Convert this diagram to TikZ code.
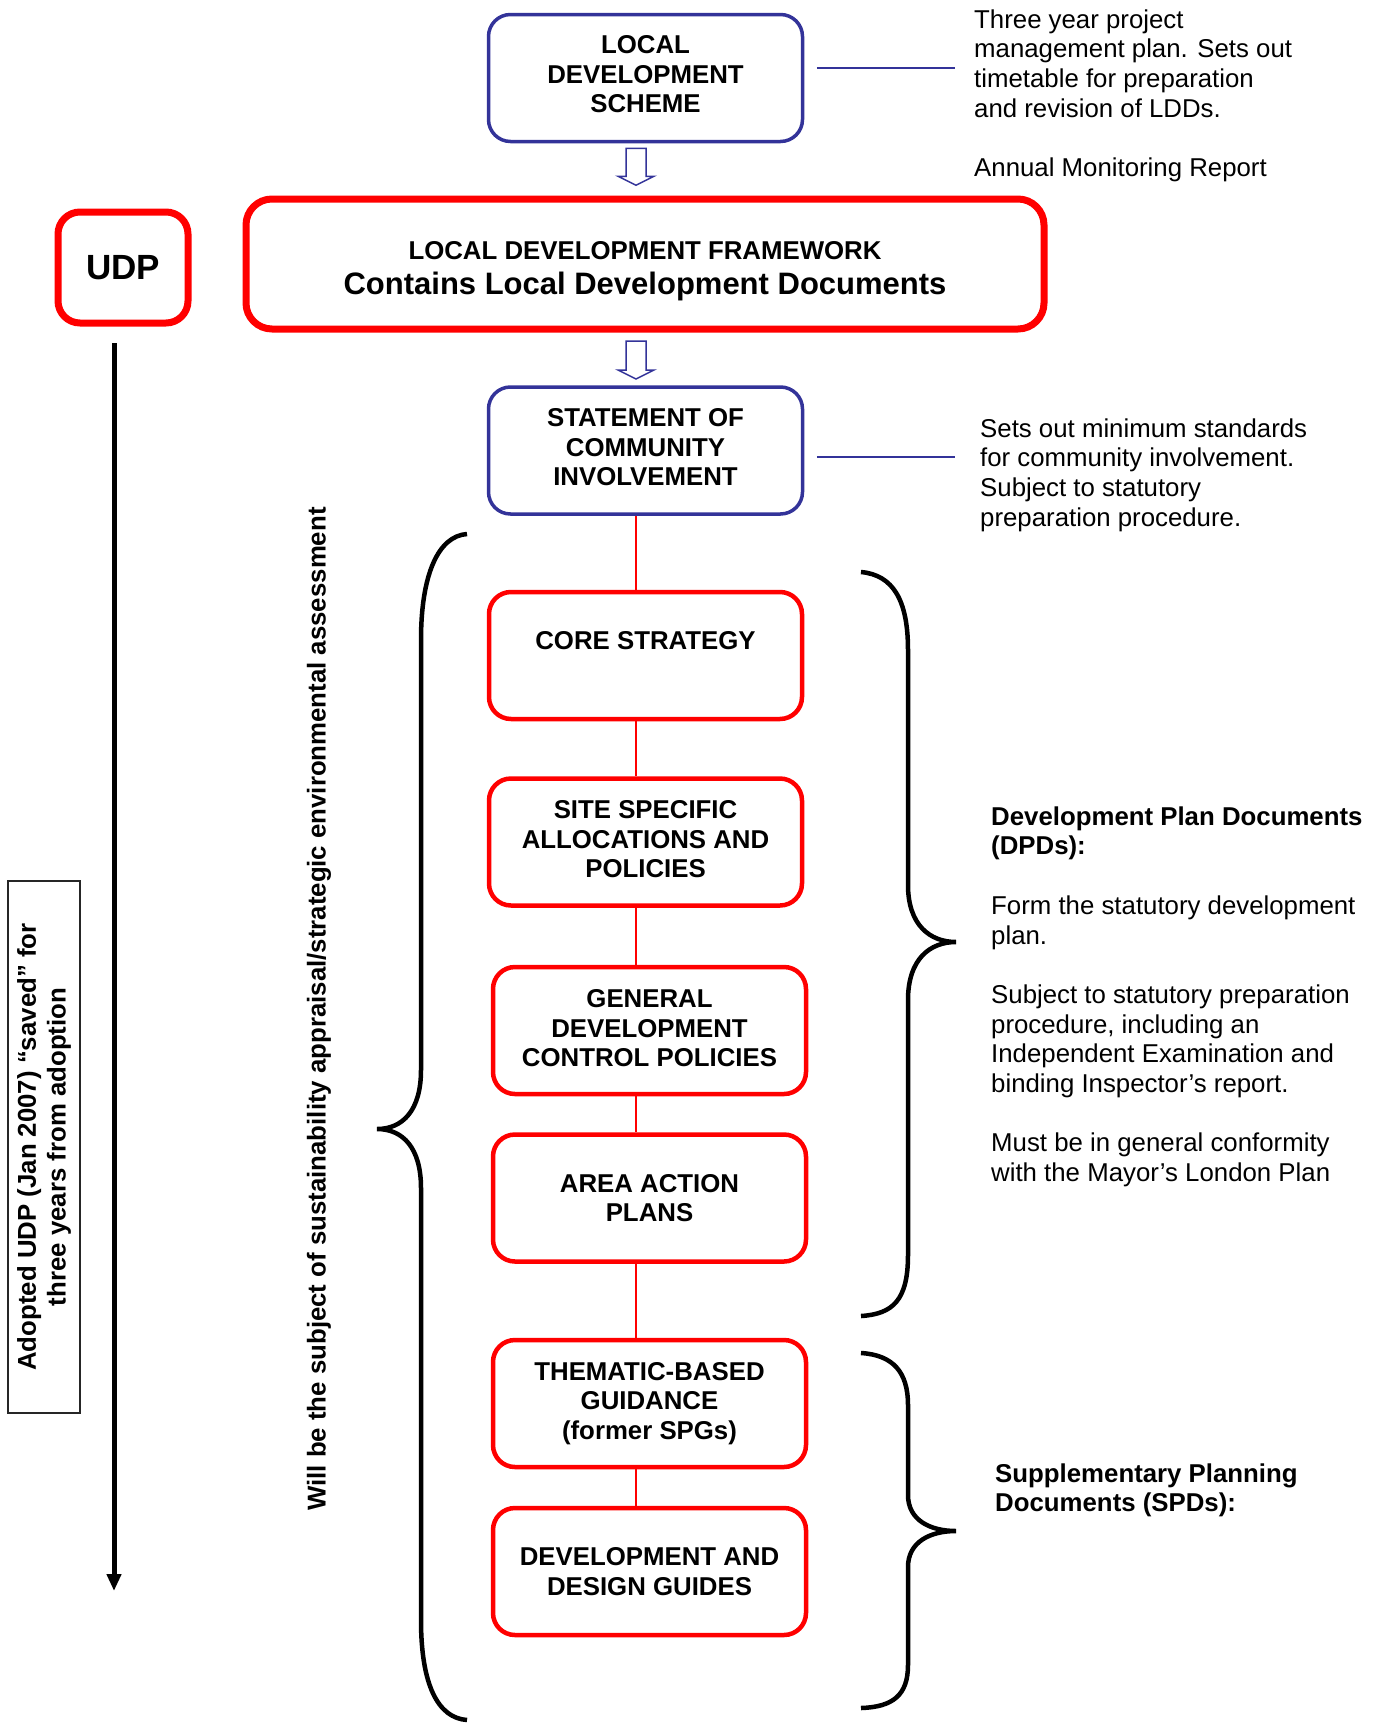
\documentclass[tikz,border=0pt]{standalone}
\usepackage{fontspec}
\setmainfont{Liberation Sans}
\usetikzlibrary{arrows.meta,calc}
\definecolor{boxblue}{RGB}{51,51,153}
\definecolor{boxred}{RGB}{255,0,0}
\newcommand\txtfont{\fontsize{25.8pt}{29.7pt}\selectfont}
\newcommand\bigfont{\fontsize{31pt}{35pt}\selectfont}
\newcommand\udpfont{\fontsize{35pt}{40pt}\selectfont}
\newcommand\lift[1]{\rule[-#1pt]{0pt}{0pt}}
\pgfdeclarelayer{bg}
\pgfsetlayers{bg,main}
\begin{document}
\begin{tikzpicture}[x=1pt,y=-1pt,
  blueframe/.style={draw=boxblue, line width=3.5pt, rounded corners=22pt, fill=white,
    align=center, inner sep=0pt, font=\txtfont\bfseries,
    minimum width=314pt, minimum height=127pt},
  redframe/.style={draw=boxred, line width=4.5pt, rounded corners=22pt, fill=white,
    align=center, inner sep=0pt, font=\txtfont\bfseries,
    minimum width=313pt, minimum height=127pt},
  bigred/.style={draw=boxred, line width=7pt, rounded corners=26pt, fill=white,
    align=center, inner sep=0pt, font=\bfseries},
  sidetext/.style={anchor=north west, align=left, inner sep=0pt, font=\txtfont},
  link/.style={draw=boxblue, line width=2pt},
  spineline/.style={draw=boxred, line width=1.5pt},
  brace/.style={draw=black, line width=4.5pt},
  hollow/.style={draw=boxblue, line width=1.5pt, fill=white, line join=miter},
]
\useasboundingbox (0,0) rectangle (1380,1724);

% main column
\node[blueframe] (lds) at (645.5,78) {LOCAL\\DEVELOPMENT\\SCHEME\lift{8}};
\node[bigred, minimum width=798pt, minimum height=130pt, font=\bigfont\bfseries] (ldf) at (645,264)
  {{\txtfont\rule{0pt}{32pt}LOCAL DEVELOPMENT FRAMEWORK}\\Contains Local Development Documents};
\node[bigred, rounded corners=22pt, minimum width=130pt, minimum height=111pt, font=\udpfont\bfseries] (udp) at (123,267.5) {UDP};
\node[blueframe] (sci) at (645.5,450.5) {STATEMENT OF\\COMMUNITY\\INVOLVEMENT\lift{7}};
\node[redframe] (core) at (645.5,655.5) {CORE STRATEGY\\\mbox{}};
\node[redframe] (site) at (645.5,842) {SITE SPECIFIC\\ALLOCATIONS AND\\POLICIES\lift{6}};
\node[redframe] (gen) at (649.5,1030.5) {GENERAL\\DEVELOPMENT\\CONTROL POLICIES\lift{5}};
\node[redframe] (area) at (649.5,1198) {AREA ACTION\\PLANS};
\node[redframe] (them) at (649.5,1403.5) {THEMATIC-BASED\\GUIDANCE\\(former SPGs)};
\node[redframe] (ddg) at (649.5,1571.5) {DEVELOPMENT AND\\DESIGN GUIDES};

% side texts
\node[sidetext] (t1) at (974,7.2) {\strut Three year project\\management plan. Sets out\\timetable for preparation\\and revision of LDDs.\\[29.7pt]Annual Monitoring Report};
\node[sidetext] (t2) at (980,416.2) {\strut Sets out minimum standards\\for community involvement.\\Subject to statutory\\preparation procedure.};
\node[sidetext] (t3) at (991,804.2) {\strut\textbf{Development Plan Documents}\\\textbf{(DPDs):}\\[29.7pt]Form the statutory development\\plan.\\[29.7pt]Subject to statutory preparation\\procedure, including an\\Independent Examination and\\binding Inspector’s report.\\[29.7pt]Must be in general conformity\\with the Mayor’s London Plan};
\node[sidetext, font=\txtfont\bfseries] (t4) at (995,1461.2) {\strut Supplementary Planning\\Documents (SPDs):};

% rotated texts
\node[rotate=90, inner sep=0pt, font=\txtfont\bfseries] (sea) at (319,1009)
  {Will be the subject of sustainability appraisal/strategic environmental assessment};
\node[rotate=90, draw=black!85, line width=1.5pt, minimum width=532pt, minimum height=72pt,
  inner sep=0pt, align=center, font=\txtfont\bfseries] (adopted) at (44,1147)
  {Adopted UDP (Jan 2007) “saved” for\\three years from adoption};

% spine
\coordinate (spine) at (636,0);
\begin{pgfonlayer}{bg}
\draw[spineline] (sci.south -| spine) -- (core.north -| spine);
\draw[spineline] (core.south -| spine) -- (site.north -| spine);
\draw[spineline] (site.south -| spine) -- (gen.north -| spine);
\draw[spineline] (gen.south -| spine) -- (area.north -| spine);
\draw[spineline] (area.south -| spine) -- (them.north -| spine);
\draw[spineline] (them.south -| spine) -- (ddg.north -| spine);
\end{pgfonlayer}

% blue side links
\draw[link] ([xshift=12.5pt,yshift=10pt]lds.east) -- ++(138,0);
\draw[link] ([xshift=12.5pt,yshift=-6.5pt]sci.east) -- ++(138,0);

% hollow block arrows
\coordinate (arrA) at ($(lds.south -| spine)+(0,5)$);
\coordinate (arrC) at ($(ldf.south -| spine)+(0,8.5)$);
\draw[hollow] (arrA) ++(-10,0) -- ++(0,28) -- ++(-8,0) -- ++(18,9) -- ++(18,-9) -- ++(-8,0) -- ++(0,-28) -- cycle;
\draw[hollow] (arrC) ++(-10,0) -- ++(0,29) -- ++(-8,0) -- ++(18,9) -- ++(18,-9) -- ++(-8,0) -- ++(0,-29) -- cycle;

% UDP timeline arrow
\coordinate (udpstart) at (114,343);
\coordinate (udpend) at (114,1591);
\draw[line width=5pt, -{Triangle[length=17pt,width=14pt]}] (udpstart) -- (udpend);

% braces
\draw[brace] (467,534) .. controls (438,536) and (421,575) .. (421,640) -- (421,1070)
  .. controls (421,1110) and (403,1129) .. (377,1129)
  .. controls (403,1129) and (421,1148) .. (421,1188) -- (421,1620)
  .. controls (421,1685) and (438,1718) .. (467,1720);
\draw[brace] (861,572) .. controls (893,575) and (908,600) .. (908,650) -- (908,885)
  .. controls (908,925) and (930,942) .. (956,942)
  .. controls (930,942) and (908,959) .. (908,1000) -- (908,1255)
  .. controls (908,1300) and (893,1314) .. (861,1316);
\draw[brace] (861,1353) .. controls (893,1355) and (908,1372) .. (908,1405) -- (908,1495)
  .. controls (908,1520) and (930,1531) .. (956,1531)
  .. controls (930,1531) and (908,1542) .. (908,1567) -- (908,1665)
  .. controls (908,1695) and (893,1707) .. (861,1708);
\end{tikzpicture}
\end{document}
